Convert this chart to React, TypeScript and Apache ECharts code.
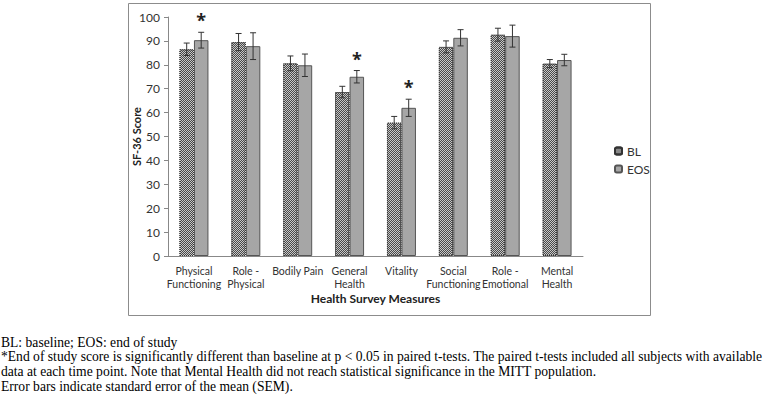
import React, { useEffect, useRef } from "react";
import * as echarts from "echarts";

const categories = [
  "Physical\nFunctioning",
  "Role -\nPhysical",
  "Bodily Pain",
  "General\nHealth",
  "Vitality",
  "Social\nFunctioning",
  "Role -\nEmotional",
  "Mental\nHealth",
];
const blValues = [86.5, 89.5, 80.6, 68.6, 55.8, 87.5, 92.6, 80.5];
const blErrors = [2.6, 3.6, 3.1, 2.4, 2.6, 2.5, 2.7, 1.7];
const eosValues = [90.3, 87.8, 79.8, 75.0, 62.0, 91.3, 92.0, 82.0];
const eosErrors = [3.3, 5.6, 4.7, 2.6, 3.6, 3.4, 4.6, 2.4];
const eosSignificant = [true, false, false, true, true, false, false, false];
const yTicks = { min: 0, max: 100, interval: 10 };
const footnotes = [
  "BL: baseline; EOS: end of study",
  "*End of study score is significantly different than baseline at p < 0.05 in paired t-tests. The paired t-tests included all subjects with available",
  "data at each time point. Note that Mental Health did not reach statistical significance in the MITT population.",
  "Error bars indicate standard error of the mean (SEM).",
];

const BAR_W = 14.5;
const AXIS_FONT = "Lato";

export default function App() {
  const ref = useRef<HTMLDivElement>(null);
  useEffect(() => {
    if (!ref.current) return;
    const chart = echarts.init(ref.current, undefined, { renderer: "svg" });

    const errData: any[] = [];
    blValues.forEach((v, i) => errData.push([i, v, blErrors[i], 0, 0]));
    eosValues.forEach((v, i) =>
      errData.push([i, v, eosErrors[i], 1, eosSignificant[i] ? 1 : 0])
    );

    const option: any = {
      animation: false,
      backgroundColor: "#ffffff",
      grid: { left: 168, right: 180, top: 17, bottom: 147 },
      legend: {
        orient: "vertical",
        left: 609,
        top: 140,
        itemWidth: 7,
        itemHeight: 7,
        itemGap: 6,
        textStyle: { fontFamily: AXIS_FONT, fontSize: 12, color: "#333" },
        data: ["BL", "EOS"],
      },
      xAxis: {
        type: "category",
        data: categories,
        axisLine: { lineStyle: { color: "#888" } },
        axisTick: { show: false },
        axisLabel: {
          interval: 0,
          fontFamily: AXIS_FONT,
          fontSize: 10.5,
          color: "#333",
          lineHeight: 13,
          margin: 8,
        },
        name: "Health Survey Measures",
        nameLocation: "middle",
        nameGap: 36,
        nameMoveOverlap: false,
        nameTextStyle: {
          fontFamily: AXIS_FONT,
          fontSize: 12,
          fontWeight: "bold",
          color: "#222",
        },
      },
      yAxis: {
        type: "value",
        min: yTicks.min,
        max: yTicks.max,
        interval: yTicks.interval,
        splitLine: { show: false },
        axisLine: { show: true, lineStyle: { color: "#888" } },
        axisTick: { show: true, length: 4, lineStyle: { color: "#888" } },
        axisLabel: { fontFamily: AXIS_FONT, fontSize: 12, color: "#333", margin: 8 },
        name: "SF-36 Score",
        nameLocation: "middle",
        nameGap: 26,
        nameMoveOverlap: false,
        nameTextStyle: {
          fontFamily: AXIS_FONT,
          fontSize: 11,
          fontWeight: "bold",
          color: "#222",
        },
      },
      series: [
        {
          name: "BL",
          type: "bar",
          data: blValues,
          barWidth: BAR_W,
          barGap: "0%",
          itemStyle: {
            color: "#c8c8c8",
            borderColor: "#333",
            borderWidth: 1,
            borderType: "dotted",
            decal: {
              symbol: "rect",
              symbolSize: 1,
              dashArrayX: [[1, 1], [0, 1, 1, 0]],
              dashArrayY: [1, 0],
              color: "rgba(50,50,50,0.85)",
            },
          },
        },
        {
          name: "EOS",
          type: "bar",
          data: eosValues,
          barWidth: BAR_W,
          barGap: "0%",
          itemStyle: {
            color: "#a6a6a6",
            borderColor: "#555",
            borderWidth: 1,
          },
        },
        {
          type: "custom",
          name: "err",
          data: errData,
          z: 10,
          encode: { x: 0, y: 1 },
          renderItem: (params: any, api: any) => {
            const cat = api.value(0);
            const v = api.value(1);
            const e = api.value(2);
            const s = api.value(3);
            const star = api.value(4);
            const off = s === 0 ? -BAR_W / 2 : BAR_W / 2;
            const top = api.coord([cat, v + e]);
            const bot = api.coord([cat, v - e]);
            const x = top[0] + off;
            const cap = 3;
            const style = { stroke: "#333", lineWidth: 1, fill: null };
            const children: any[] = [
              { type: "line", shape: { x1: x, y1: top[1], x2: x, y2: bot[1] }, style },
              { type: "line", shape: { x1: x - cap, y1: top[1], x2: x + cap, y2: top[1] }, style },
              { type: "line", shape: { x1: x - cap, y1: bot[1], x2: x + cap, y2: bot[1] }, style },
            ];
            if (star) {
              children.push({
                type: "text",
                style: {
                  text: "*",
                  x: x,
                  y: top[1] - 3,
                  align: "center",
                  verticalAlign: "bottom",
                  font: 'bold 18px "Open Sans"',
                  fill: "#222",
                },
              });
            }
            return { type: "group", children };
          },
        },
      ],
      graphic: [
        {
          type: "rect",
          shape: { x: 128.5, y: 3.5, width: 522, height: 312 },
          style: { fill: null, stroke: "#8c8c8c", lineWidth: 1 },
          silent: true,
        },
        ...footnotes.map((t, i) => ({
          type: "text",
          left: 1,
          top: 335 + i * 14.8,
          style: {
            text: t,
            font: '13.6px "Liberation Serif"',
            fill: "#000",
          },
        })),
      ],
    };
    chart.setOption(option);
    return () => chart.dispose();
  }, []);
  return (
    <div
      ref={ref}
      style={{ position: "absolute", left: 0, top: 0, width: 763, height: 403 }}
    />
  );
}
